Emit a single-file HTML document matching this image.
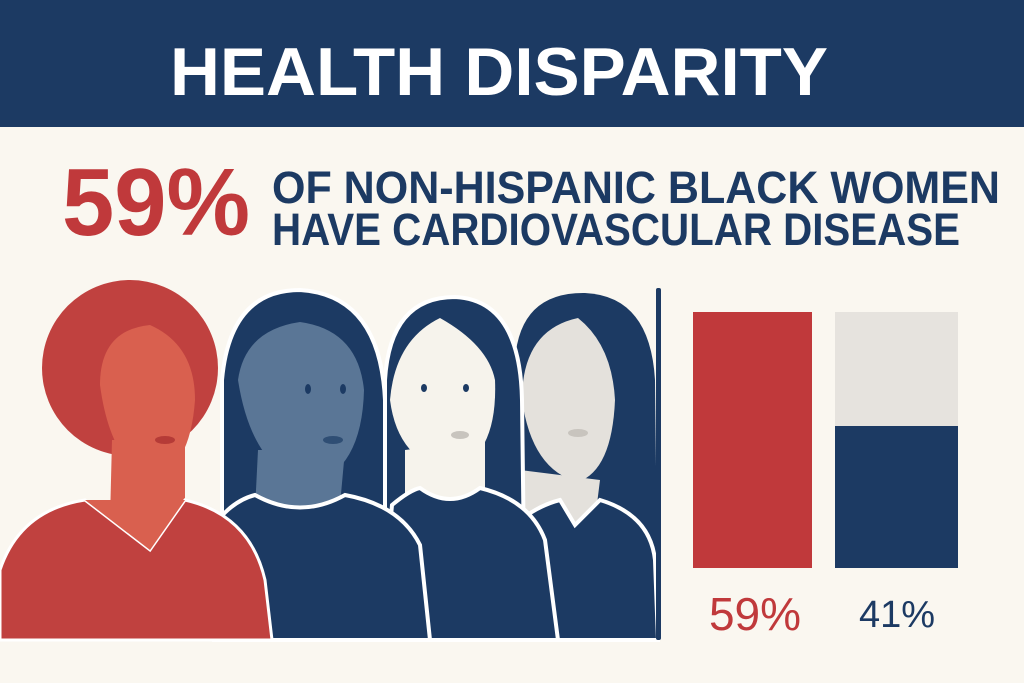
<!DOCTYPE html>
<html><head><meta charset="utf-8"><style>
html,body{margin:0;padding:0;background:#faf7f0;}
svg{display:block;}
</style></head><body>
<svg width="1024" height="683" viewBox="0 0 1024 683" xmlns="http://www.w3.org/2000/svg" font-family="Liberation Sans, sans-serif" font-weight="bold">
<rect width="1024" height="683" fill="#faf7f0"/>
<rect width="1024" height="127" fill="#1c3a63"/>
<text x="170" y="95" font-size="68" fill="#fff" textLength="658" lengthAdjust="spacingAndGlyphs">HEALTH DISPARITY</text>
<text x="62" y="235" font-size="96" fill="#c0393b" textLength="188" lengthAdjust="spacingAndGlyphs">59%</text>
<text x="272" y="203" font-size="45" fill="#1c3a63" textLength="728" lengthAdjust="spacingAndGlyphs">OF NON-HISPANIC BLACK WOMEN</text>
<text x="272" y="245" font-size="45" fill="#1c3a63" textLength="688" lengthAdjust="spacingAndGlyphs">HAVE CARDIOVASCULAR DISEASE</text>

<!-- figure 4 -->
<path d="M515 640 L515 360 Q520 292 585 293 Q650 296 655 380 L658 640 Z" fill="#1c3a63"/>
<path d="M522 400 Q522 330 578 318 Q612 345 615 400 Q612 470 578 482 Q532 470 522 400Z" fill="#e4e1dc"/>
<path d="M520 470 L520 520 Q560 560 595 520 L600 480 Z" fill="#e4e1dc"/>
<ellipse cx="578" cy="433" rx="10" ry="4" fill="#c8c4be"/>
<path d="M510 640 L520 520 Q540 505 560 500 L575 525 L600 500 Q650 515 655 560 L658 640Z" fill="#1c3a63" stroke="#fff" stroke-width="4"/>
<!-- figure 3 -->
<path d="M385 640 L385 380 Q390 297 455 297 Q520 300 522 400 L525 640Z" fill="#1c3a63" stroke="#fff" stroke-width="4"/>
<path d="M390 400 Q395 340 440 318 Q488 345 495 380 Q498 455 452 472 Q398 462 390 400Z" fill="#f6f3ec"/>
<path d="M405 450 L405 500 Q445 520 485 495 L485 440Z" fill="#f6f3ec"/>
<ellipse cx="424" cy="388" rx="3" ry="4" fill="#1c3a63"/>
<ellipse cx="466" cy="388" rx="3" ry="4" fill="#1c3a63"/>
<ellipse cx="460" cy="435" rx="9" ry="4" fill="#c8c4be"/>
<path d="M380 640 L392 505 Q410 490 420 488 Q450 510 480 488 Q530 500 545 540 L558 640Z" fill="#1c3a63" stroke="#fff" stroke-width="4"/>
<!-- figure 2 -->
<path d="M222 640 L222 380 Q230 290 300 290 Q380 295 385 400 L385 640Z" fill="#1c3a63" stroke="#fff" stroke-width="4"/>
<path d="M238 380 Q245 330 300 322 Q358 330 364 390 Q362 470 310 485 Q252 470 238 380Z" fill="#5a7696"/>
<path d="M258 450 L255 510 Q300 530 340 505 L345 450Z" fill="#5a7696"/>
<ellipse cx="308" cy="389" rx="3" ry="5" fill="#1c3a63"/>
<ellipse cx="343" cy="389" rx="3" ry="5" fill="#1c3a63"/>
<ellipse cx="333" cy="440" rx="10" ry="4" fill="#2f4e74"/>
<path d="M214 640 L218 520 Q235 500 255 495 Q300 520 345 495 Q400 505 420 545 L430 640Z" fill="#1c3a63" stroke="#fff" stroke-width="4"/>
<!-- figure 1 -->
<circle cx="130" cy="368" r="88" fill="#c0413f"/>
<path d="M100 385 Q100 330 150 325 Q195 345 195 400 Q190 470 150 480 Q110 460 100 385Z" fill="#d9604f"/>
<path d="M112 440 L110 520 Q150 545 185 510 L185 440Z" fill="#d9604f"/>
<ellipse cx="165" cy="440" rx="10" ry="4" fill="#b53b37"/>
<path d="M0 640 L0 570 Q20 510 85 500 L150 550 L185 500 Q250 515 265 580 L272 640Z" fill="#c0413f" stroke="#fff" stroke-width="3"/>
<path d="M85 500 L150 550 L185 500 Z" fill="#d9604f"/>

<rect x="656" y="288" width="5" height="352" rx="2" fill="#1c3a63"/>

<rect x="693" y="312" width="119" height="256" fill="#c0393b"/>
<rect x="835" y="312" width="123" height="114" fill="#e6e3de"/>
<rect x="835" y="426" width="123" height="142" fill="#1c3a63"/>
<text x="755" y="630" font-size="46" fill="#c0393b" text-anchor="middle" font-weight="normal">59%</text>
<text x="897" y="627" font-size="38" fill="#1c3a63" text-anchor="middle" font-weight="normal">41%</text>
</svg>
</body></html>
